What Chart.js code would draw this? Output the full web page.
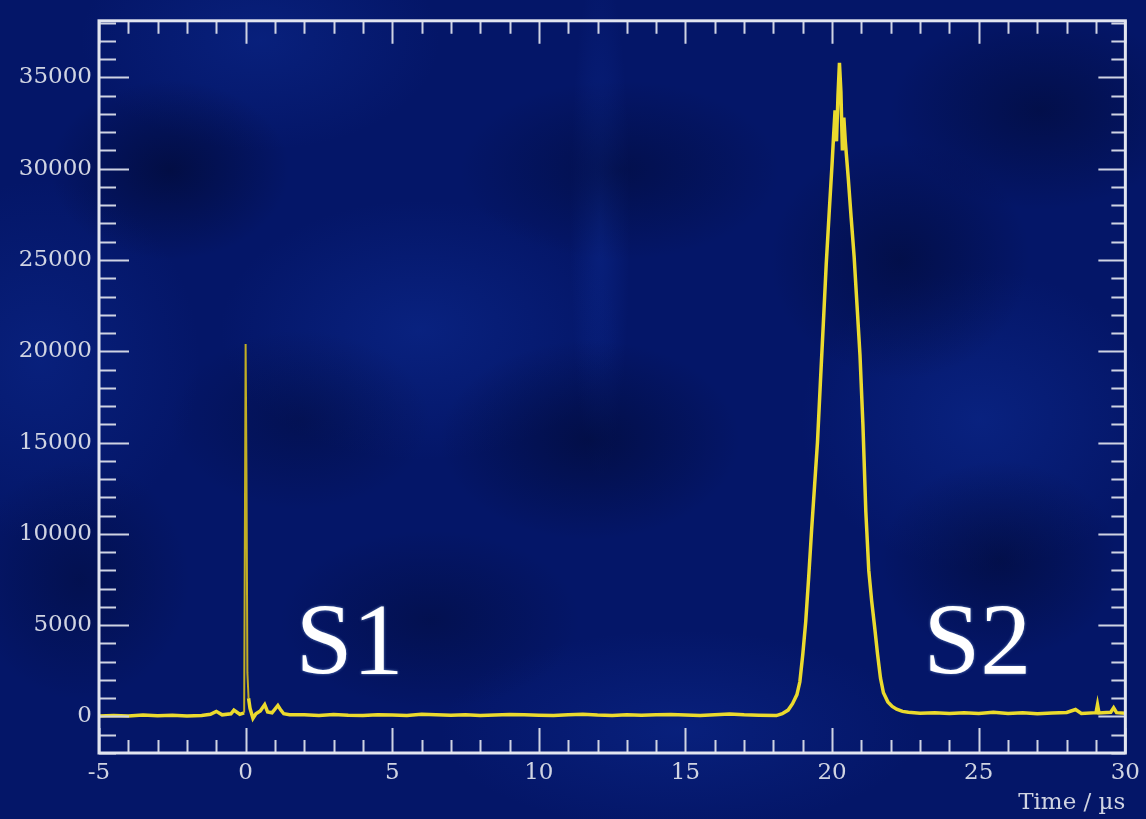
<!DOCTYPE html>
<html>
<head>
<meta charset="utf-8">
<script src="https://cdn.jsdelivr.net/npm/chart.js@4.4.1/dist/chart.umd.min.js"></script>
<style>
  html, body { margin: 0; padding: 0; }
  body {
    width: 1146px; height: 819px; overflow: hidden;
    background-color: #041668;
    background-image:
      radial-gradient(ellipse 120px 90px at 170px 170px, rgba(1,8,45,0.6), transparent),
      radial-gradient(ellipse 150px 100px at 590px 440px, rgba(1,8,45,0.55), transparent),
      radial-gradient(ellipse 160px 90px at 620px 170px, rgba(1,8,45,0.45), transparent),
      radial-gradient(ellipse 130px 120px at 900px 260px, rgba(1,8,45,0.5), transparent),
      radial-gradient(ellipse 150px 100px at 1040px 110px, rgba(1,8,45,0.5), transparent),
      radial-gradient(ellipse 150px 90px at 430px 620px, rgba(1,8,45,0.4), transparent),
      radial-gradient(ellipse 110px 120px at 80px 580px, rgba(1,8,45,0.4), transparent),
      radial-gradient(ellipse 120px 100px at 1000px 560px, rgba(1,8,45,0.5), transparent),
      radial-gradient(ellipse 130px 90px at 300px 420px, rgba(1,8,45,0.35), transparent),
      radial-gradient(ellipse 200px 130px at 420px 330px, rgba(18,55,170,0.35), transparent),
      radial-gradient(ellipse 180px 150px at 980px 420px, rgba(18,55,170,0.35), transparent),
      radial-gradient(ellipse 180px 110px at 260px 40px, rgba(18,55,170,0.3), transparent),
      radial-gradient(ellipse 240px 100px at 680px 730px, rgba(18,55,170,0.3), transparent),
      radial-gradient(ellipse 160px 180px at 40px 360px, rgba(18,55,170,0.3), transparent),
      radial-gradient(ellipse 30px 260px at 600px 220px, rgba(18,55,170,0.3), transparent);
  }
  #wrap { position: relative; width: 1146px; height: 819px; }
</style>
</head>
<body>
<div id="wrap"><canvas id="pulse"></canvas></div>
<script>
// Waveform: time (µs) and amplitude (counts)
const timeUs = [
  -5, -4.5, -4, -3.5, -3, -2.5, -2, -1.5, -1.2, -1.0, -0.8, -0.5, -0.4, -0.2, -0.05,
  0.0, 0.03, 0.06, 0.1, 0.15, 0.25, 0.35, 0.5, 0.65, 0.75, 0.9, 1.1, 1.2, 1.3, 1.5,
  2, 2.5, 3, 3.5, 4, 4.5, 5, 5.5, 6, 6.5, 7, 7.5, 8, 8.5, 9, 9.5,
  10, 10.5, 11, 11.5, 12, 12.5, 13, 13.5, 14, 14.5, 15, 15.5, 16, 16.5, 17, 17.5,
  18.1, 18.3, 18.5, 18.65, 18.8, 18.9, 19.0, 19.1, 19.2, 19.3, 19.4, 19.5, 19.6, 19.7,
  19.8, 19.9, 20.0, 20.05, 20.1, 20.15, 20.2, 20.25, 20.3, 20.35, 20.4, 20.45, 20.55,
  20.65, 20.75, 20.85, 20.95, 21.05, 21.15, 21.25, 21.35, 21.45, 21.55, 21.65, 21.75,
  21.9, 22.05, 22.2, 22.4,
  22.6, 23, 23.5, 24, 24.5, 25, 25.5, 26, 26.5, 27, 27.5, 28, 28.3, 28.5,
  29, 29.05, 29.1, 29.5, 29.6, 29.7, 30
];
const counts = [
  20, 60, 30, 80, 40, 70, 30, 60, 120, 280, 90, 150, 350, 120, 200,
  20400, 13200, 2400, 1000, 450, -100, 150, 300, 650, 250, 200, 600, 350, 150, 100,
  90, 60, 110, 70, 50, 100, 80, 60, 120, 90, 70, 100, 60, 80, 110, 90,
  70, 50, 90, 120, 80, 60, 100, 70, 90, 110, 80, 60, 100, 130, 90, 70,
  50, 150, 350, 700, 1200, 1900, 3400, 5200, 7600, 10200, 12600, 15000, 18300, 21500,
  24800, 27600, 30300, 31800, 33200, 31500, 34000, 35800, 34200, 31000, 32800, 31500, 29500,
  27300, 25200, 22500, 19800, 16000, 11200, 8000, 6300, 4900, 3400, 2100, 1300,
  800, 550, 400, 280,
  230, 180, 210, 160, 200, 170, 230, 160, 200, 150, 190, 220, 380, 170,
  210, 650, 190, 230, 480, 210, 180
];

const xMin = -5, xMax = 30;
const yMin = -2000, yMax = 38100;
const xMajorTicks = [-5, 0, 5, 10, 15, 20, 25, 30];
const yMajorTicks = [0, 5000, 10000, 15000, 20000, 25000, 30000, 35000];
const xMinorStep = 1, yMinorStep = 1000;
const xTitle = 'Time / µs';
const peakLabels = [
  { text: 'S1', t: 3.55, v: 2300 },
  { text: 'S2', t: 24.95, v: 2300 },
];

const serif = '"Liberation Serif", "Times New Roman", serif';
const wideSerif = '"DejaVu Serif", "Liberation Serif", serif';
const labelColor = '#d0d4e2';
const tickColor = '#cfd3e3';
const frameColor = '#e2e5f0';

// Cadre et graduations intérieures sur les quatre côtés (style ROOT)
const frameTicks = {
  id: 'frameTicks',
  afterDatasetsDraw(chart) {
    const { ctx, chartArea: a, scales: { x, y } } = chart;
    ctx.save();
    ctx.strokeStyle = tickColor;
    ctx.lineWidth = 2;
    ctx.beginPath();
    for (let v = xMin; v <= xMax; v += xMinorStep) {
      const px = Math.round(x.getPixelForValue(v)) + 0.5;
      const major = xMajorTicks.includes(v);
      ctx.moveTo(px, a.bottom); ctx.lineTo(px, a.bottom - (major ? 25 : 13));
      ctx.moveTo(px, a.top); ctx.lineTo(px, a.top + (major ? 23 : 13));
    }
    for (let v = -2000; v <= yMax; v += yMinorStep) {
      const py = Math.round(y.getPixelForValue(v)) + 0.5;
      const major = yMajorTicks.includes(v);
      ctx.moveTo(a.left, py); ctx.lineTo(a.left + (major ? 30 : 17), py);
      ctx.moveTo(a.right, py); ctx.lineTo(a.right - (major ? 27 : 14), py);
    }
    ctx.stroke();

    ctx.strokeStyle = frameColor;
    ctx.lineWidth = 3;
    ctx.strokeRect(a.left, a.top, a.right - a.left, a.bottom - a.top);

    // S1 / S2
    ctx.font = '102px ' + serif;
    ctx.fillStyle = '#ffffff';
    ctx.textAlign = 'center';
    ctx.textBaseline = 'alphabetic';
    ctx.shadowColor = 'rgba(170,210,255,0.6)';
    ctx.shadowBlur = 3;
    peakLabels.forEach(p => {
      ctx.fillText(p.text, x.getPixelForValue(p.t), y.getPixelForValue(p.v));
    });
    ctx.restore();
  }
};

new Chart(document.getElementById('pulse'), {
  type: 'line',
  data: {
    datasets: [{
      data: timeUs.map((t, i) => ({ x: t, y: counts[i] })),
      borderColor: '#ebda2e',
      borderWidth: 3.5,
      pointRadius: 0,
      tension: 0,
      fill: false,
      segment: {
        borderColor: c => (c.p0.parsed.x >= -0.06 && c.p1.parsed.x <= 0.1) ? '#c2ae24' : undefined,
        borderWidth: c => (c.p0.parsed.x >= -0.06 && c.p1.parsed.x <= 0.1) ? 2 : undefined,
      },
    }],
  },
  options: {
    responsive: true,
    maintainAspectRatio: false,
    animation: false,
    layout: { padding: { top: 15, right: 16, left: 0, bottom: 0 } },
    plugins: { legend: { display: false }, tooltip: { enabled: false } },
    scales: {
      x: {
        type: 'linear',
        min: xMin, max: xMax,
        afterBuildTicks: s => { s.ticks = xMajorTicks.map(v => ({ value: v })); },
        afterFit: s => { s.height = 66; },
        grid: { display: false, drawTicks: false },
        border: { display: false },
        ticks: {
          color: labelColor, font: { family: wideSerif, size: 23 }, padding: 6, maxRotation: 0,
          callback: v => String(v),
        },
        title: {
          display: true, text: xTitle, align: 'end', color: labelColor,
          font: { family: wideSerif, size: 23 }, padding: { top: 0, bottom: 2 },
        },
      },
      y: {
        type: 'linear',
        min: yMin, max: yMax,
        afterBuildTicks: s => { s.ticks = yMajorTicks.map(v => ({ value: v })); },
        afterFit: s => { s.width = 99; },
        grid: { display: false, drawTicks: false },
        border: { display: false },
        ticks: {
          color: labelColor, font: { family: wideSerif, size: 23 }, padding: 7,
          callback: v => String(v),
        },
      },
    },
  },
  plugins: [frameTicks],
});
</script>
</body>
</html>
